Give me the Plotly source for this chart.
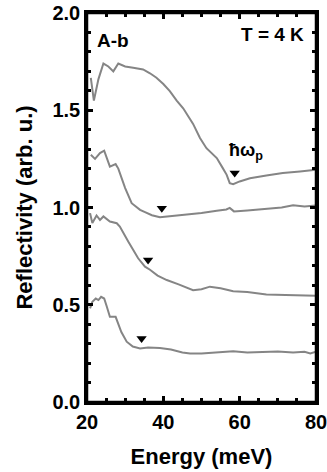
import plotly.graph_objects as go

x1 = [21.0, 21.8, 23.0, 24.3, 25.6, 26.9, 28.2, 30.0, 32.1, 34.7, 36.5, 38.2, 40.0, 41.7, 43.5, 45.2, 47.8, 49.6, 51.3, 54.0, 55.5, 56.6, 57.4, 58.3, 60.0, 62.7, 67.0, 71.3, 75.8, 80.0]
y1 = [1.667, 1.55, 1.66, 1.74, 1.725, 1.70, 1.74, 1.725, 1.718, 1.71, 1.69, 1.667, 1.635, 1.598, 1.55, 1.51, 1.43, 1.357, 1.305, 1.254, 1.205, 1.168, 1.125, 1.12, 1.134, 1.15, 1.165, 1.177, 1.185, 1.194]

x2 = [21.0, 22.1, 23.4, 24.5, 26.0, 27.5, 28.2, 30.0, 31.7, 33.9, 35.2, 37.0, 39.1, 42.0, 45.0, 50.0, 54.0, 56.5, 57.4, 58.5, 62.0, 67.0, 71.0, 74.0, 77.0, 80.0]
y2 = [1.271, 1.25, 1.28, 1.292, 1.21, 1.223, 1.20, 1.10, 1.022, 0.988, 0.976, 0.96, 0.95, 0.955, 0.962, 0.972, 0.983, 0.99, 0.998, 0.98, 0.985, 0.993, 1.0, 1.012, 1.005, 1.01]

x3 = [20.8, 21.4, 22.5, 23.4, 24.3, 26.0, 27.8, 28.6, 30.8, 33.4, 35.2, 36.5, 38.5, 40.9, 44.0, 47.8, 50.0, 52.2, 55.0, 58.3, 62.0, 67.0, 72.0, 76.0, 80.0]
y3 = [0.971, 0.92, 0.959, 0.936, 0.954, 0.928, 0.919, 0.902, 0.825, 0.739, 0.696, 0.68, 0.65, 0.627, 0.605, 0.575, 0.58, 0.593, 0.585, 0.57, 0.565, 0.553, 0.55, 0.547, 0.546]

x4 = [20.8, 21.4, 22.3, 23.0, 23.7, 24.5, 25.2, 26.0, 27.5, 28.2, 29.0, 30.4, 32.0, 33.9, 36.0, 39.1, 42.0, 45.0, 47.0, 50.0, 55.0, 58.3, 62.0, 66.7, 70.0, 74.0, 77.0, 78.5, 80.0]
y4 = [0.481, 0.515, 0.532, 0.524, 0.541, 0.532, 0.49, 0.438, 0.438, 0.404, 0.36, 0.31, 0.285, 0.275, 0.28, 0.278, 0.27, 0.255, 0.249, 0.25, 0.255, 0.261, 0.255, 0.258, 0.26, 0.255, 0.258, 0.25, 0.258]

arrow_x = [58.7, 39.6, 36.0, 34.3]
arrow_y = [1.177, 0.996, 0.73, 0.326]

x_range = [20, 80]
y_range = [0, 2.0]

FONT = "Liberation Sans, Arial, sans-serif"
GRAY = "#858585"

fig = go.Figure()
for xs, ys in [(x1, y1), (x2, y2), (x3, y3), (x4, y4)]:
    fig.add_trace(go.Scatter(x=xs, y=ys, mode="lines",
                             line=dict(color=GRAY, width=2), showlegend=False))
fig.add_trace(go.Scatter(x=arrow_x, y=arrow_y, mode="markers",
                         marker=dict(symbol="triangle-down", size=9, color="black"),
                         showlegend=False))
# invisible trace that anchors the mirrored (top/right) tick axes
fig.add_trace(go.Scatter(x=arrow_x, y=arrow_y, xaxis="x2", yaxis="y2", mode="markers",
                         marker=dict(opacity=0), hoverinfo="skip", showlegend=False))

tick_common = dict(
    showline=True, linecolor="black", linewidth=2.5,
    ticks="inside", ticklen=6, tickwidth=2.5, tickcolor="black",
    showgrid=False, zeroline=False, ticklabeloverflow="allow",
)
xminor = dict(dtick=5, ticks="inside", ticklen=4, tickwidth=2.5, tickcolor="black", showgrid=False)
yminor = dict(dtick=0.1, ticks="inside", ticklen=4, tickwidth=2.5, tickcolor="black", showgrid=False)
tfont = dict(family=FONT, size=20, color="black", weight="bold")
titlefont = dict(family=FONT, size=22, color="black", weight="bold")

fig.update_layout(
    xaxis=dict(range=x_range, dtick=20, tick0=20, minor=xminor, tickfont=tfont,
               title=dict(text="Energy (meV)", font=titlefont, standoff=17), **tick_common),
    yaxis=dict(range=y_range, dtick=0.5, tickformat=".1f", minor=yminor, tickfont=tfont,
               title=dict(text="Reflectivity (arb. u.)", font=titlefont, standoff=14), **tick_common),
    xaxis2=dict(range=x_range, dtick=20, tick0=20, minor=xminor, overlaying="x", side="top",
                anchor="y", showticklabels=False, **tick_common),
    yaxis2=dict(range=y_range, dtick=0.5, minor=yminor, overlaying="y", side="right",
                anchor="x", showticklabels=False, **tick_common),
)

# plot frame (paper-referenced, not clipped)
for (ax0, ay0, ax1, ay1) in [(0, 1, 1, 1), (1, 0, 1, 1), (0, 0, 1, 0), (0, 0, 0, 1)]:
    fig.add_shape(type="line", xref="paper", yref="paper", x0=ax0, y0=ay0, x1=ax1, y1=ay1,
                  line=dict(color="black", width=2.5), layer="above")

fig.add_annotation(x=0.035, y=0.93, xref="paper", yref="paper", text="<b>A-b</b>",
                   showarrow=False, xanchor="left", yanchor="middle",
                   font=dict(family=FONT, size=19, color="black"))
fig.add_annotation(x=0.955, y=0.945, xref="paper", yref="paper", text="<b>T = 4 K</b>",
                   showarrow=False, xanchor="right", yanchor="middle",
                   font=dict(family=FONT, size=19, color="black"))
fig.add_annotation(x=56.6, y=1.29, xref="x", yref="y", text="<b>ħω<sub>p</sub></b>",
                   showarrow=False, xanchor="left", yanchor="middle",
                   font=dict(family=FONT, size=18, color="black"))

fig.update_layout(width=327, height=472,
                  margin=dict(l=87, r=11, t=13, b=70, autoexpand=False),
                  plot_bgcolor="white", paper_bgcolor="white")

fig.write_html("out.html", config={"displayModeBar": False},
               post_script="document.body.style.margin='0';document.body.style.overflow='hidden';")
